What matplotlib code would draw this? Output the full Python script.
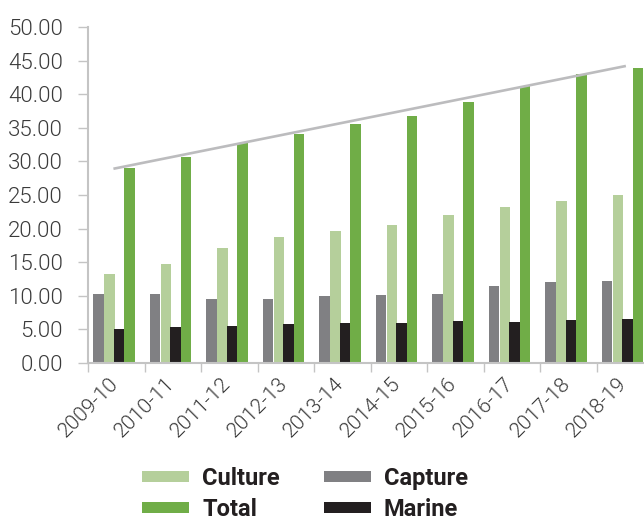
import matplotlib
matplotlib.use("Agg")
import matplotlib.pyplot as plt
import matplotlib.transforms as mtransforms
import numpy as np

years = ["2009-10", "2010-11", "2011-12", "2012-13", "2013-14",
         "2014-15", "2015-16", "2016-17", "2017-18", "2018-19"]
capture = [10.27, 10.27, 9.52, 9.52, 9.97, 10.12, 10.27, 11.46, 12.05, 12.20]
culture = [13.24, 14.73, 17.11, 18.75, 19.64, 20.54, 22.02, 23.21, 24.11, 25.00]
marine = [5.06, 5.36, 5.51, 5.80, 5.95, 5.95, 6.25, 6.10, 6.40, 6.55]
total = [29.02, 30.65, 32.74, 34.08, 35.57, 36.76, 38.84, 41.22, 43.00, 43.90]
yticks = [0, 5, 10, 15, 20, 25, 30, 35, 40, 45, 50]

C_CAPTURE = "#808083"
C_CULTURE = "#b5cf9b"
C_MARINE = "#231f20"
C_TOTAL = "#70ad47"
C_AXIS = "#c4c4c4"
C_TEXT = "#3a3a3a"

light_font = "Roboto"
light_weight = 300

fig = plt.figure(figsize=(6.44, 5.25), dpi=100)
fig.patch.set_facecolor("white")
ax = fig.add_axes([88 / 644, 162 / 525, 565 / 644, 336 / 525])

x = np.arange(len(years))
w = 0.19
b_cap = ax.bar(x - 0.314, capture, w, color=C_CAPTURE, label="Capture", zorder=2)
b_cul = ax.bar(x - 0.119, culture, w, color=C_CULTURE, label="Culture", zorder=2)
b_mar = ax.bar(x + 0.049, marine, w, color=C_MARINE, label="Marine", zorder=2)
b_tot = ax.bar(x + 0.235, total, w, color=C_TOTAL, label="Total", zorder=2)

# linear trendline of Total
coef = np.polyfit(x, total, 1)
tx = np.array([x[0] - 0.05, x[-1] + 0.02])
ax.plot(tx, np.polyval(coef, tx), color="#bcbcbe", lw=1.9, zorder=3,
        solid_capstyle="butt")

ax.set_xlim(-0.5, len(years) - 0.5)
ax.set_ylim(0, 50)

ax.set_yticks(yticks)
ax.set_yticklabels([f"{v:.2f}" for v in yticks], fontsize=16,
                   family=light_font, weight=light_weight, color=C_TEXT)
ax.tick_params(axis="y", length=7.2, width=1.0, color=C_AXIS, pad=11)

ax.set_xticks(np.arange(-0.5, len(years), 1.0))
ax.set_xticklabels([])
ax.tick_params(axis="x", which="major", length=6.5, width=1.0, color=C_AXIS)
ax.set_xticks(x, minor=True)
ax.set_xticklabels(years, minor=True, rotation=45, ha="right", va="top",
                   rotation_mode="anchor", fontsize=15, family=light_font,
                   weight=light_weight, color=C_TEXT)
ax.tick_params(axis="x", which="minor", length=0, pad=8)
shift = mtransforms.ScaledTranslation(-8 / 100, 0, fig.dpi_scale_trans)
for lab in ax.get_xticklabels(minor=True):
    lab.set_transform(lab.get_transform() + shift)

for s in ["top", "right"]:
    ax.spines[s].set_visible(False)
for s in ["left", "bottom"]:
    ax.spines[s].set_color(C_AXIS)
    ax.spines[s].set_linewidth(1.5)

handles = [b_cul, b_tot, b_cap, b_mar]
labels = ["Culture", "Total", "Capture", "Marine"]
leg = fig.legend(handles, labels, ncol=2, loc="center",
                 bbox_to_anchor=(305 / 644, 1 - 494 / 525),
                 frameon=False, handlelength=2.0, handleheight=0.35,
                 handletextpad=0.55, columnspacing=1.85, labelspacing=0.35,
                 prop={"family": "Roboto", "weight": "bold", "size": 17})
for t in leg.get_texts():
    t.set_color(C_MARINE)

fig.savefig("out.png", dpi=100)
